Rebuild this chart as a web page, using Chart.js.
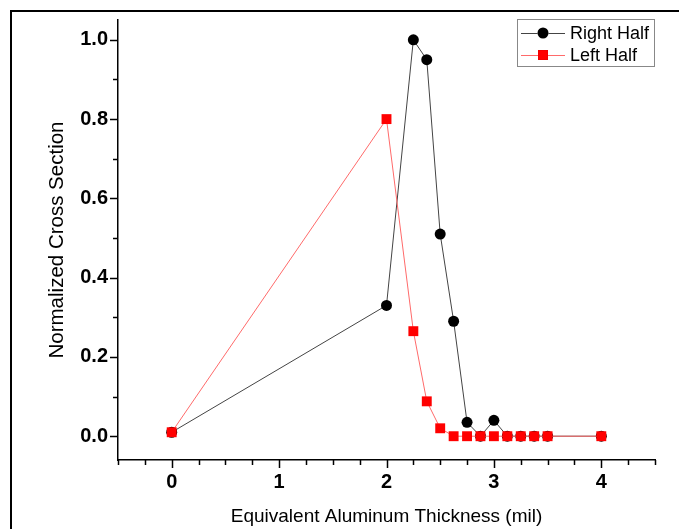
<!DOCTYPE html>
<html>
<head>
<meta charset="utf-8">
<script src="https://cdn.jsdelivr.net/npm/chart.js@4.4.1/dist/chart.umd.min.js"></script>
<style>
  html, body { margin: 0; padding: 0; background: #fff; }
  #wrap { width: 679px; height: 529px; }
</style>
</head>
<body>
<div id="wrap"><canvas id="myChart" width="679" height="529"></canvas></div>
<script>
// thickness in mil
const thickness = [0, 2, 2.25, 2.375, 2.5, 2.625, 2.75, 2.875, 3, 3.125, 3.25, 3.375, 3.5, 4];
const rightHalf = [0.01, 0.33, 1.0, 0.95, 0.51, 0.29, 0.035, 0, 0.04, 0, 0, 0, 0, 0];
const leftHalf = [0.01, 0.80, 0.265, 0.088, 0.02, 0, 0, 0, 0, 0, 0, 0, 0, 0];

const xTicks = [-0.5, -0.25, 0, 0.25, 0.5, 0.75, 1, 1.25, 1.5, 1.75, 2, 2.25, 2.5, 2.75, 3, 3.25, 3.5, 3.75, 4, 4.25, 4.5];
const yTicks = [0, 0.1, 0.2, 0.3, 0.4, 0.5, 0.6, 0.7, 0.8, 0.9, 1.0];
const yLabels = ['0.0', '', '0.2', '', '0.4', '', '0.6', '', '0.8', '', '1.0'];

const FONT = '"Liberation Sans", Arial, sans-serif';

function pts(ys) {
  return thickness.map((x, i) => ({ x: x, y: ys[i] }));
}

// outer frame (top + left only, as in the original)
const framePlugin = {
  id: 'frame',
  afterDraw(chart) {
    const c = chart.ctx;
    c.save();
    c.strokeStyle = '#000';
    c.lineWidth = 2;
    c.beginPath();
    c.moveTo(679, 11);
    c.lineTo(11, 11);
    c.lineTo(11, 529);
    c.stroke();
    c.restore();
  }
};

// major / minor tick marks pointing outward
const tickPlugin = {
  id: 'outTicks',
  afterDraw(chart) {
    const c = chart.ctx;
    const xs = chart.scales.x, ys = chart.scales.y;
    c.save();
    c.strokeStyle = '#000';
    c.lineWidth = 1.5;
    c.beginPath();
    xs.ticks.forEach(t => {
      const px = Math.round(xs.getPixelForValue(t.value)) + 0.5;
      const len = Number.isInteger(t.value) ? 8 : 5;
      c.moveTo(px, xs.top);
      c.lineTo(px, xs.top + len);
    });
    ys.ticks.forEach((t, i) => {
      const py = Math.round(ys.getPixelForValue(t.value)) + 0.5;
      const len = yLabels[i] ? 8 : 5;
      c.moveTo(ys.right, py);
      c.lineTo(ys.right - len, py);
    });
    c.stroke();
    c.restore();
  }
};

// boxed legend with line + marker samples
const legendPlugin = {
  id: 'boxLegend',
  afterDraw(chart) {
    const c = chart.ctx;
    const a = chart.chartArea;
    const w = 137, h = 47;
    const left = a.right - w - 1, top = a.top - 1;
    c.save();
    c.fillStyle = '#fff';
    c.fillRect(left, top, w, h);
    c.strokeStyle = '#888';
    c.lineWidth = 1;
    c.strokeRect(left + 0.5, top + 0.5, w, h);
    chart.data.datasets.forEach((ds, i) => {
      const y = top + 14 + i * 22;
      c.strokeStyle = ds.borderColor;
      c.lineWidth = 1;
      c.beginPath();
      c.moveTo(left + 4, y + 0.5);
      c.lineTo(left + 48, y + 0.5);
      c.stroke();
      Chart.helpers.drawPoint(c, {
        pointStyle: ds.pointStyle,
        radius: ds.pointRadius,
        borderWidth: 0
      }, left + 26, y);
      c.fillStyle = ds.pointBackgroundColor;
      c.fill();
      c.fillStyle = '#000';
      c.font = '18px ' + FONT;
      c.textBaseline = 'middle';
      c.fillText(ds.label, left + 53, y + 1);
    });
    c.restore();
  }
};

const ctx = document.getElementById('myChart');

new Chart(ctx, {
  type: 'scatter',
  data: {
    datasets: [{
      label: 'Right Half',
      data: pts(rightHalf),
      showLine: true,
      borderColor: '#444',
      borderWidth: 1,
      pointStyle: 'circle',
      pointRadius: 5.5,
      pointBackgroundColor: '#000',
      pointBorderWidth: 0,
      order: 1
    }, {
      label: 'Left Half',
      data: pts(leftHalf),
      showLine: true,
      borderColor: '#ff6a6a',
      borderWidth: 1,
      pointStyle: 'rect',
      pointRadius: 7,
      pointBackgroundColor: '#ff0000',
      pointBorderWidth: 0,
      order: 0
    }]
  },
  options: {
    responsive: false,
    animation: false,
    devicePixelRatio: 1,
    layout: { padding: { left: 12, right: 24, top: 20, bottom: 0 } },
    plugins: {
      legend: { display: false },
      tooltip: { enabled: false }
    },
    scales: {
      x: {
        type: 'linear',
        min: -0.5,
        max: 4.5,
        afterBuildTicks: s => { s.ticks = xTicks.map(v => ({ value: v })); },
        afterFit: s => { s.height = 69; },
        grid: { display: false },
        border: { display: true, color: '#000', width: 1.5 },
        ticks: {
          autoSkip: false,
          maxRotation: 0,
          padding: 2,
          color: '#000',
          font: { family: FONT, size: 20, weight: 'bold' },
          callback: v => Number.isInteger(v) ? String(v) : ''
        },
        title: {
          display: true,
          text: 'Equivalent Aluminum Thickness (mil)',
          color: '#000',
          font: { family: FONT, size: 19 },
          padding: { top: 0, bottom: 1 }
        }
      },
      y: {
        type: 'linear',
        min: -0.06,
        max: 1.05,
        afterBuildTicks: s => { s.ticks = yTicks.map(v => ({ value: v })); },
        afterFit: s => { s.width = 106; },
        grid: { display: false },
        border: { display: true, color: '#000', width: 1.5 },
        ticks: {
          autoSkip: false,
          padding: 2,
          color: '#000',
          font: { family: FONT, size: 20, weight: 'bold' },
          callback: (v, i) => yLabels[i]
        },
        title: {
          display: true,
          text: 'Normalized Cross Section',
          color: '#000',
          font: { family: FONT, size: 20.5 },
          padding: { top: 33, bottom: 0 }
        }
      }
    }
  },
  plugins: [framePlugin, tickPlugin, legendPlugin]
});
</script>
</body>
</html>
